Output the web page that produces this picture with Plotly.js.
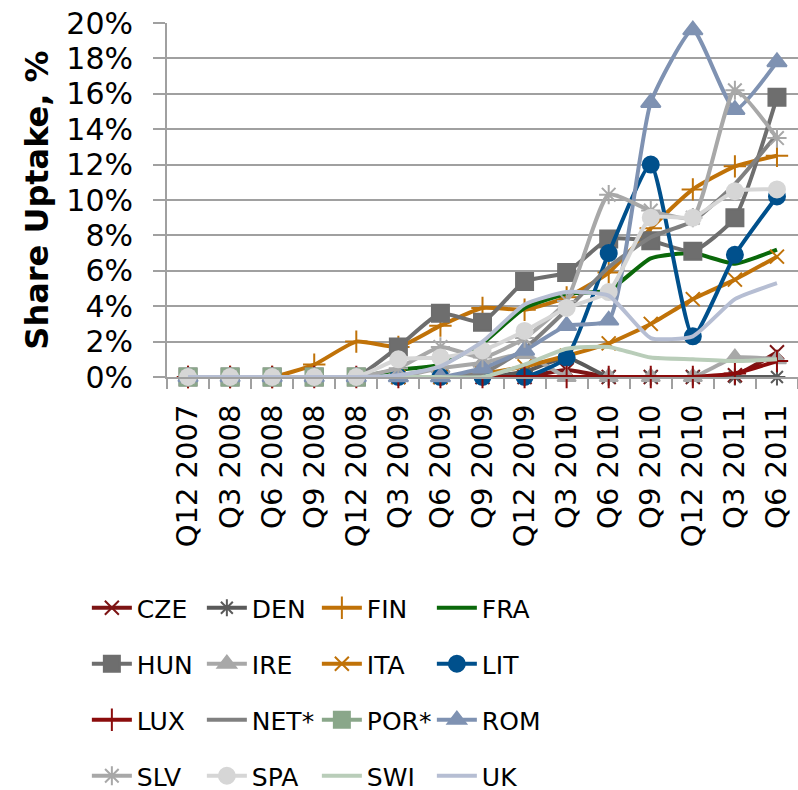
<!DOCTYPE html>
<html>
<head>
<meta charset="utf-8">
<script src="https://cdn.plot.ly/plotly-3.0.1.min.js"></script>
<style>html,body{margin:0;padding:0;background:#fff;}#chart{width:798px;height:790px;}</style>
</head>
<body>
<div id="chart"></div>
<script>
const categories = ['Q12 2007','Q3 2008','Q6 2008','Q9 2008','Q12 2008','Q3 2009','Q6 2009','Q9 2009','Q12 2009','Q3 2010','Q6 2010','Q9 2010','Q12 2010','Q3 2011','Q6 2011'];

const CZE = [0,0,0,0,0,0,0,0,0,0.4,0,0,0,0.1,1.4];
const DEN = [0,0,0,0,0,0,0,0,0.3,1.1,0,0,0,0,0];
const FIN = [0,0,0,0.7,2.0,1.7,2.9,3.9,3.8,4.5,5.9,8.4,10.6,11.9,12.5];
const FRA = [0,0,0,0,0,0.4,0.7,1.9,3.9,4.7,4.9,6.7,7.0,6.4,7.2];
const HUN = [0,0,0,0,0,1.7,3.6,3.1,5.4,5.9,7.8,7.7,7.1,9.0,15.8];
const IRE = [0,0,0,0,0,0,0.5,0.8,1.3,0,0,0,0,1.1,1.0];
const ITA = [0,0,0,0,0,0,0,0.2,0.6,1.2,1.9,3.0,4.4,5.5,6.8];
const LIT = [0,0,0,0,0,0,0,0,0,1.1,7.0,12.0,2.3,6.9,10.2];
const LUX = [0,0,0,0,0,0,0,0,0,0,0,0,0,0.2,0.9];
const NET = [0,0,0,0,0,0,0,0.2,1.6,3.8,6.2,7.9,8.8,10.9,13.7];
const POR = [0,0,0,0,0,null,null,null,null,null,null,null,null,null,null];
const ROM = [0,0,0,0,0,0,0,0.5,1.5,2.9,3.2,15.5,19.6,15.1,17.8];
const SLV = [0,0,0,0,0,0.5,1.7,1.1,2.2,4.3,10.3,9.4,9.0,16.2,13.5];
const SPA = [0,0,0,0,0,1.0,1.1,1.5,2.6,3.9,4.8,9.0,9.0,10.5,10.6];
const SWI = [0,0,0,0,0,0,0,0,0.7,1.6,1.7,1.1,1.0,0.9,1.0];
const UK  = [0,0,0,0,0,0.1,0.6,2.0,4.1,4.8,4.6,2.2,2.3,4.4,5.3];

const yTickVals = [0,2,4,6,8,10,12,14,16,18,20];
const yTickText = ['0%','2%','4%','6%','8%','10%','12%','14%','16%','18%','20%'];
const yTitle = 'Share Uptake, %';

const seriesDefs = [
  {name:'CZE',  y:CZE, color:'#7d1414', symbol:'x-thin-open',     size:14, legend:'legend'},
  {name:'DEN',  y:DEN, color:'#5a5a5a', symbol:'asterisk-open',   size:14, legend:'legend'},
  {name:'FIN',  y:FIN, color:'#c07208', symbol:'cross-thin-open', size:16, legend:'legend'},
  {name:'FRA',  y:FRA, color:'#0a680a', symbol:null,              size:0,  legend:'legend'},
  {name:'HUN',  y:HUN, color:'#6e6e6e', symbol:'square',          size:17, legend:'legend2'},
  {name:'IRE',  y:IRE, color:'#a8a8a8', symbol:'triangle-up',     size:16, legend:'legend2'},
  {name:'ITA',  y:ITA, color:'#c07208', symbol:'x-thin-open',     size:14, legend:'legend2'},
  {name:'LIT',  y:LIT, color:'#00508c', symbol:'circle',          size:16, legend:'legend2'},
  {name:'LUX',  y:LUX, color:'#8b0c0c', symbol:'cross-thin-open', size:16, legend:'legend3'},
  {name:'NET*', y:NET, color:'#808080', symbol:null,              size:0,  legend:'legend3'},
  {name:'POR*', y:POR, color:'#8aa78a', symbol:'square',          size:17, legend:'legend3'},
  {name:'ROM',  y:ROM, color:'#7f92b2', symbol:'triangle-up',     size:17, legend:'legend3'},
  {name:'SLV',  y:SLV, color:'#a8a8a8', symbol:'asterisk-open',   size:16, legend:'legend4'},
  {name:'SPA',  y:SPA, color:'#d6d6d6', symbol:'circle',          size:16, legend:'legend4'},
  {name:'SWI',  y:SWI, color:'#b9cdb9', symbol:null,              size:0,  legend:'legend4'},
  {name:'UK',   y:UK,  color:'#b6bed3', symbol:null,              size:0,  legend:'legend4'}
];

const traces = seriesDefs.map(s => {
  const t = {
    type:'scatter',
    x: categories,
    y: s.y,
    name: s.name,
    legend: s.legend,
    mode: s.symbol ? 'lines+markers' : 'lines',
    line: {color: s.color, width: 4, shape: 'spline', smoothing: 0.5},
    cliponaxis: false,
    hoverinfo: 'name+y'
  };
  if (s.symbol) {
    t.marker = {symbol: s.symbol, size: s.size, color: s.color, line: {color: s.color, width: 2}};
  }
  return t;
});

const plotBottom = 377, plotTop = 23;
const plotH = plotBottom - plotTop;
function legendY(px){ return (plotBottom - px) / plotH; }
const legendFont = {family:'DejaVu Sans, Verdana, sans-serif', size:25, color:'#000'};
function legendCfg(py){
  return {
    orientation:'h', x:-0.127, xanchor:'left', y:legendY(py), yanchor:'middle',
    font: legendFont, bgcolor:'rgba(0,0,0,0)', entrywidth:60, entrywidthmode:'pixels',
    itemwidth:40, traceorder:'normal'
  };
}

const layout = {
  width:798, height:790,
  margin:{l:167, r:0, t:plotTop, b:790-plotBottom, pad:0, autoexpand:false},
  paper_bgcolor:'#fff', plot_bgcolor:'#fff',
  font:{family:'DejaVu Sans, Verdana, sans-serif', color:'#000'},
  showlegend:true,
  xaxis:{
    type:'category', range:[-0.5,14.5], tickangle:-90,
    tickfont:{size:29, color:'#000'},
    showgrid:false, zeroline:false,
    showline:true, linecolor:'#a0a0a0', linewidth:2,
    ticks:'outside', tickson:'boundaries', ticklen:10, tickcolor:'#a0a0a0', tickwidth:2,
    ticklabelstandoff:14, fixedrange:true
  },
  yaxis:{
    range:[0,20], tickvals:yTickVals, ticktext:yTickText,
    tickfont:{size:30, color:'#000'},
    showgrid:true, gridcolor:'#a0a0a0', gridwidth:2,
    zeroline:false,
    showline:true, linecolor:'#a0a0a0', linewidth:2,
    ticks:'outside', ticklen:12, tickcolor:'#a0a0a0', tickwidth:2,
    ticklabelstandoff:14,
    title:{text:yTitle, font:{size:32, color:'#000', family:'DejaVu Sans, Verdana, sans-serif', weight:'bold'}, standoff:8},
    fixedrange:true
  },
  legend: legendCfg(608),
  legend2: legendCfg(664),
  legend3: legendCfg(720),
  legend4: legendCfg(776)
};

Plotly.newPlot('chart', traces, layout, {displayModeBar:false, staticPlot:true});
</script>
</body>
</html>
